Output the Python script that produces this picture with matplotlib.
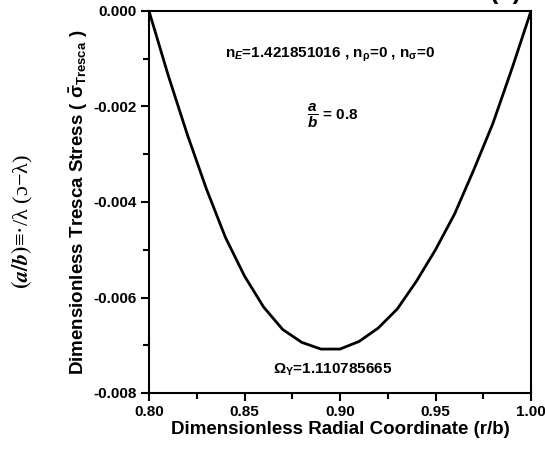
import matplotlib
matplotlib.use("Agg")
import matplotlib.pyplot as plt
from matplotlib.ticker import MultipleLocator

plt.rcParams['font.family'] = ['Liberation Sans', 'DejaVu Sans']
plt.rcParams['font.weight'] = 'bold'
plt.rcParams['mathtext.fontset'] = 'custom'
plt.rcParams['mathtext.rm'] = 'Liberation Sans:bold'
plt.rcParams['mathtext.it'] = 'Liberation Sans:bold:italic'
plt.rcParams['mathtext.bf'] = 'Liberation Sans:bold'
plt.rcParams['mathtext.sf'] = 'Liberation Sans'

# data
r_over_b = [0.80, 0.81, 0.82, 0.83, 0.84, 0.85, 0.86, 0.87, 0.88, 0.89, 0.90,
            0.91, 0.92, 0.93, 0.94, 0.95, 0.96, 0.97, 0.98, 0.99, 1.00]
tresca = [0.0, -0.00134, -0.00258, -0.00372, -0.00474, -0.00555, -0.00620,
          -0.00667, -0.00694, -0.00708, -0.00708, -0.00692, -0.00664,
          -0.00624, -0.00566, -0.00500, -0.00425, -0.00333, -0.00236,
          -0.00121, 0.0]
x_ticks = [0.80, 0.85, 0.90, 0.95, 1.00]
x_ticklabels = ['0.80', '0.85', '0.90', '0.95', '1.00']
y_ticks = [0.000, -0.002, -0.004, -0.006, -0.008]
y_ticklabels = ['0.000', '-0.002', '-0.004', '-0.006', '-0.008']

fig = plt.figure(figsize=(5.45, 4.5), dpi=100)
ax = fig.add_axes([149/545, 1-393/450, (531-149)/545, (393-11)/450])

ax.plot(r_over_b, tresca, color='black', lw=2)
ax.set_xlim(0.80, 1.00)
ax.set_ylim(-0.008, 0.0)
ax.set_xticks(x_ticks)
ax.set_xticklabels(x_ticklabels)
ax.set_yticks(y_ticks)
ax.set_yticklabels(y_ticklabels)
ax.xaxis.set_minor_locator(MultipleLocator(0.025))
ax.yaxis.set_minor_locator(MultipleLocator(0.001))
ax.tick_params(which='major', direction='out', length=6, width=1.5, labelsize=11, pad=3)
ax.tick_params(which='minor', direction='out', length=4, width=1.5)
ax.tick_params(top=False, right=False)
for lab in ax.get_xticklabels() + ax.get_yticklabels():
    lab.set_fontweight('bold')
for s in ax.spines.values():
    s.set_linewidth(1.5)

ax.set_xlabel('Dimensionless Radial Coordinate (r/b)', fontsize=13.5,
              fontweight='bold', labelpad=1)
ax.set_ylabel(r'Dimensionless Tresca Stress ( $\bar{\mathsf{\sigma}}_{\mathbf{Tresca}}$ )',
              fontsize=13.5, fontweight='bold', labelpad=2)

ax.text(0.475, 0.885, r'n$_{E}$=1.421851016 , n$_{\mathsf{\rho}}$=0 , n$_{\mathsf{\sigma}}$=0',
        transform=ax.transAxes, ha='center', va='center', fontsize=11, fontweight='bold')
ax.text(0.48, 0.725, r'$\dfrac{a}{b}$ = 0.8', transform=ax.transAxes,
        ha='center', va='center', fontsize=11, fontweight='bold')
ax.text(0.48, 0.06, r'$\mathsf{\Omega}_{\mathsf{Y}}$=1.110785665', transform=ax.transAxes,
        ha='center', va='center', fontsize=11, fontweight='bold')

fig.text(506/545, 1.0 + 1/450, '(b)', ha='center', va='baseline', fontsize=18,
         fontweight='bold')
fig.text(22/545, 1-222/450, r'$(\mathit{a/b})$' + '≡·/λ (ɔ−λ)', rotation=90, ha='center',
         va='center', fontsize=16, family=['Liberation Serif', 'DejaVu Serif'],
         fontweight='normal', math_fontfamily='stix')

fig.savefig('out.png', dpi=100)
